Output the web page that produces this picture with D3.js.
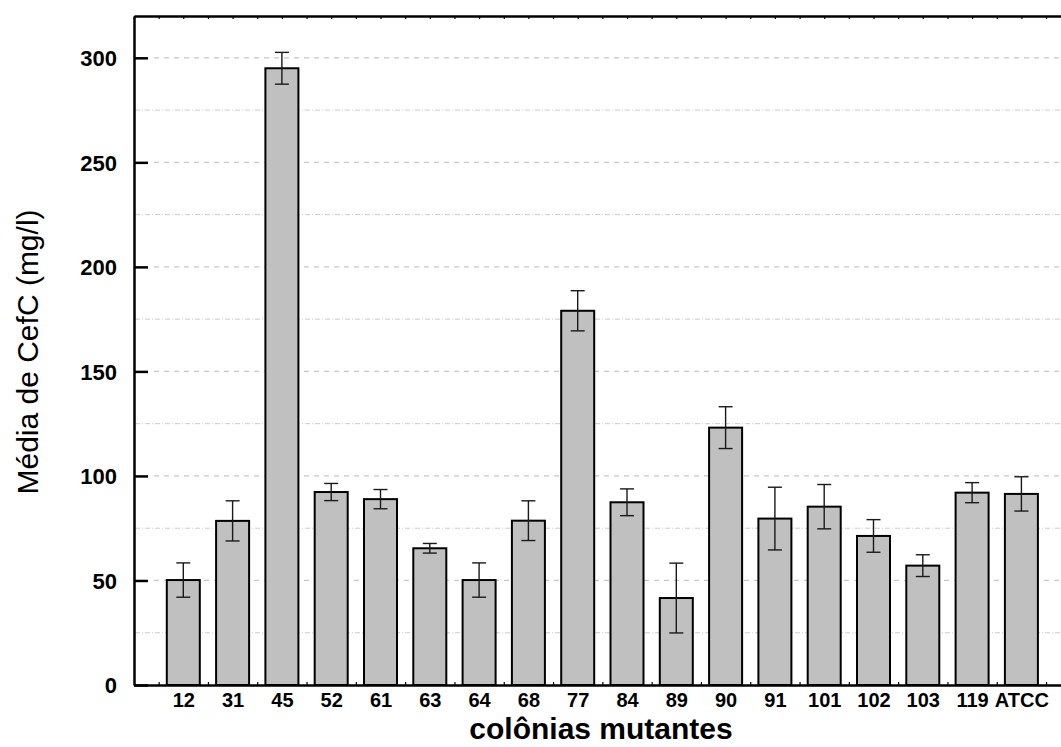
<!DOCTYPE html>
<html>
<head>
<meta charset="utf-8">
<script src="https://cdn.jsdelivr.net/npm/d3@7"></script>
<style>
  body { margin: 0; background: #fff; }
  svg { display: block; font-family: "Liberation Sans", Arial, sans-serif; }
  .tick text { font-weight: bold; fill: #000; }
  .y-axis .tick text { font-size: 22px; }
  .x-axis .tick text { font-size: 20px; }
</style>
</head>
<body>
<div id="chart"></div>
<script>
// colonies and mean CefC (mg/l) with error (+/-)
const colonias = ["12", "31", "45", "52", "61", "63", "64", "68", "77", "84", "89", "90", "91", "101", "102", "103", "119", "ATCC"];
const medias = [50.2, 78.5, 295, 92.3, 88.9, 65.4, 50.2, 78.6, 179, 87.4, 41.6, 123.1, 79.6, 85.3, 71.3, 57.1, 92, 91.4];
const erros = [8.2, 9.6, 7.6, 4.1, 4.6, 2.3, 8.2, 9.5, 9.6, 6.4, 16.7, 10, 15, 10.6, 7.8, 5.2, 4.8, 8.2];
const majorTicks = [0, 50, 100, 150, 200, 250, 300];
const minorTicks = [25, 75, 125, 175, 225, 275];

const W = 1061, H = 747;
const plotLeft = 134, plotTop = 16, plotBottom = 685;
const step = 49.3;

const svg = d3.select("#chart").append("svg")
    .attr("width", W)
    .attr("height", H);

const x = d3.scaleLinear()
    .domain([0, 19])
    .range([plotLeft, plotLeft + 19 * step]);

const y = d3.scaleLinear()
    .domain([0, 320])
    .range([plotBottom, plotTop]);

// grid lines
svg.append("g").selectAll("line")
    .data(majorTicks.filter(d => d > 0))
    .enter().append("line")
    .attr("x1", plotLeft + 20).attr("x2", W)
    .attr("y1", d => y(d)).attr("y2", d => y(d))
    .attr("stroke", "#c8c8c8")
    .attr("stroke-width", 1.2)
    .attr("stroke-dasharray", "5,5");

svg.append("g").selectAll("line")
    .data(minorTicks)
    .enter().append("line")
    .attr("x1", plotLeft + 1).attr("x2", W)
    .attr("y1", d => y(d)).attr("y2", d => y(d))
    .attr("stroke", "#cccccc")
    .attr("stroke-width", 1)
    .attr("stroke-dasharray", "5,2,1,2");

// bars
const bw = 33;
svg.append("g").selectAll("rect")
    .data(medias)
    .enter().append("rect")
    .attr("x", (d, i) => x(i + 1) - bw / 2)
    .attr("y", d => y(d))
    .attr("width", bw)
    .attr("height", d => y(0) - y(d))
    .attr("fill", "#c0c0c0")
    .attr("stroke", "#000")
    .attr("stroke-width", 2);

// error bars
const eb = svg.append("g")
    .attr("stroke", "#1a1a1a")
    .attr("stroke-width", 1.4);
medias.forEach((m, i) => {
    const cx = x(i + 1);
    const hi = y(m + erros[i]), lo = y(m - erros[i]);
    eb.append("line").attr("x1", cx).attr("x2", cx).attr("y1", hi).attr("y2", lo);
    eb.append("line").attr("x1", cx - 7).attr("x2", cx + 7).attr("y1", hi).attr("y2", hi);
    eb.append("line").attr("x1", cx - 7).attr("x2", cx + 7).attr("y1", lo).attr("y2", lo);
});

// left axis
const yAxis = svg.append("g")
    .attr("class", "y-axis")
    .attr("transform", `translate(${plotLeft},0)`)
    .call(d3.axisLeft(y).tickValues(majorTicks).tickSizeInner(-14).tickSizeOuter(0).tickPadding(17));
yAxis.select(".domain").attr("stroke-width", 2.5);
yAxis.selectAll(".tick line").attr("stroke-width", 2.5);
yAxis.selectAll(".tick text").attr("dy", "0.36em");

// top axis with small ticks
const halfSteps = d3.range(0, 39).map(i => i * 0.5);
const topAxis = svg.append("g")
    .attr("transform", `translate(0,${plotTop})`)
    .call(d3.axisTop(x).tickValues(halfSteps).tickSizeInner(-3).tickSizeOuter(0).tickFormat(""));
topAxis.select(".domain").attr("stroke-width", 2.5);
topAxis.selectAll(".tick line").attr("stroke-width", 1.2);

// bottom axis: labels at categories, small ticks between
const minorX = d3.range(0, 19).map(i => i + 0.5);
const botMinor = svg.append("g")
    .attr("transform", `translate(0,${plotBottom})`)
    .call(d3.axisBottom(x).tickValues(minorX).tickSizeInner(-3).tickSizeOuter(0).tickFormat(""));
botMinor.select(".domain").attr("stroke-width", 2.5);
botMinor.selectAll(".tick line").attr("stroke-width", 1.2);

const botAxis = svg.append("g")
    .attr("class", "x-axis")
    .attr("transform", `translate(0,${plotBottom})`)
    .call(d3.axisBottom(x).tickValues(d3.range(1, 19)).tickSize(0).tickPadding(8)
        .tickFormat(d => colonias[d - 1]));
botAxis.select(".domain").remove();

// axis titles
svg.append("text")
    .attr("transform", `translate(38,352) rotate(-90)`)
    .attr("text-anchor", "middle")
    .style("font-size", "30px")
    .text("Média de CefC (mg/l)");

svg.append("text")
    .attr("x", 601)
    .attr("y", 739)
    .attr("text-anchor", "middle")
    .style("font-size", "30px")
    .style("font-weight", "bold")
    .text("colônias mutantes");
</script>
</body>
</html>
